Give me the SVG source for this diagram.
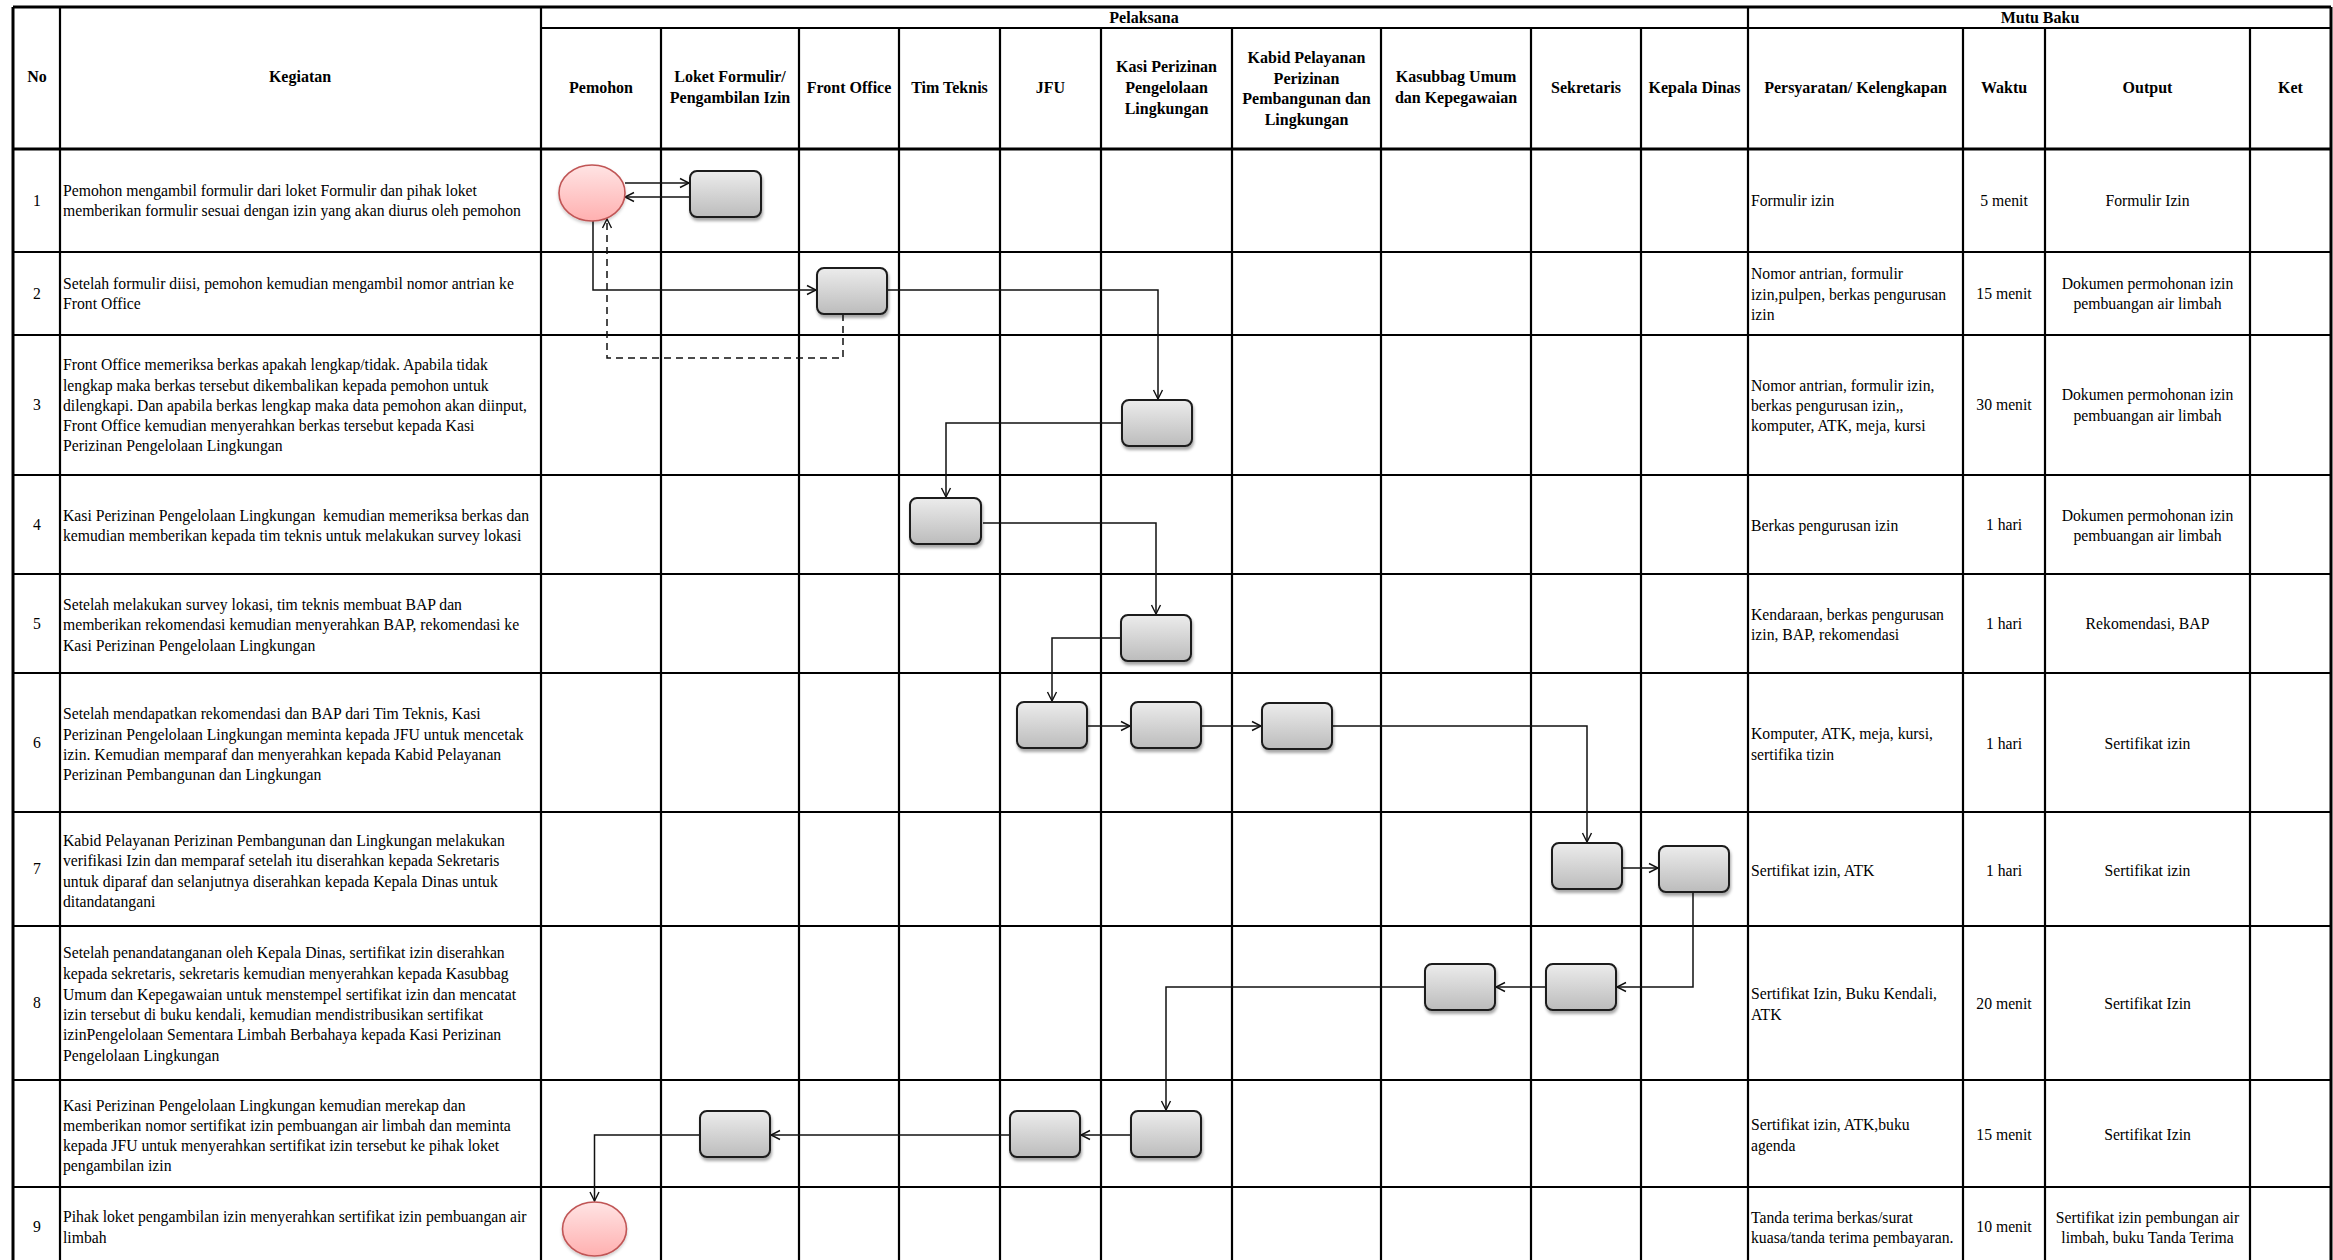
<svg xmlns="http://www.w3.org/2000/svg" width="2333" height="1260" viewBox="0 0 2333 1260">
<style>
.g{stroke:#000;stroke-width:2.2;fill:none}
.gt{stroke:#000;stroke-width:3;fill:none}
.h{font-family:"Liberation Serif","Times New Roman",serif;font-size:16px;font-weight:bold;fill:#000;text-anchor:middle}
.t{font-family:"Liberation Serif","Times New Roman",serif;font-size:15.7px;fill:#000}
.c{text-anchor:middle}
.box{fill:url(#bg);stroke:#1a1a1a;stroke-width:2;filter:url(#sh)}
.circ{fill:url(#cg);stroke:#c05555;stroke-width:1.6;filter:url(#sh2)}
.cn{fill:none;stroke:#111;stroke-width:1.5}
.dash{stroke-dasharray:7,5}
.ar{marker-end:url(#arr)}
</style>
<defs>
<linearGradient id="bg" x1="0" y1="0" x2="0" y2="1">
<stop offset="0" stop-color="#ececec"/>
<stop offset="1" stop-color="#bcbcbc"/>
</linearGradient>
<linearGradient id="cg" x1="0" y1="0" x2="0" y2="1">
<stop offset="0" stop-color="#ffe4e4"/>
<stop offset="1" stop-color="#ffb0b0"/>
</linearGradient>
<filter id="sh" x="-20%" y="-20%" width="140%" height="160%">
<feDropShadow dx="1" dy="3" stdDeviation="1.6" flood-color="#000" flood-opacity="0.35"/>
</filter>
<filter id="sh2" x="-20%" y="-20%" width="140%" height="160%">
<feDropShadow dx="0" dy="2" stdDeviation="1.5" flood-color="#000" flood-opacity="0.2"/>
</filter>
<marker id="arr" markerUnits="userSpaceOnUse" markerWidth="12" markerHeight="12" refX="10" refY="6" orient="auto">
<path d="M1,1.5 L10,6 L1,10.5" fill="none" stroke="#111" stroke-width="1.4"/>
</marker>
</defs>
<rect x="0" y="0" width="2333" height="1260" fill="#fff"/>

<g id="grid">
<line class="gt" x1="13" y1="7" x2="2331" y2="7"/>
<line class="g" x1="541" y1="28" x2="2331" y2="28"/>
<line class="gt" x1="13" y1="149" x2="2331" y2="149"/>
<line class="g" x1="13" y1="252" x2="2331" y2="252"/>
<line class="g" x1="13" y1="335" x2="2331" y2="335"/>
<line class="g" x1="13" y1="475" x2="2331" y2="475"/>
<line class="g" x1="13" y1="574" x2="2331" y2="574"/>
<line class="g" x1="13" y1="673" x2="2331" y2="673"/>
<line class="g" x1="13" y1="812" x2="2331" y2="812"/>
<line class="g" x1="13" y1="926" x2="2331" y2="926"/>
<line class="g" x1="13" y1="1080" x2="2331" y2="1080"/>
<line class="g" x1="13" y1="1187" x2="2331" y2="1187"/>
<line class="gt" x1="13" y1="7" x2="13" y2="1260"/>
<line class="g" x1="60" y1="7" x2="60" y2="1260"/>
<line class="g" x1="541" y1="7" x2="541" y2="1260"/>
<line class="g" x1="661" y1="28" x2="661" y2="1260"/>
<line class="g" x1="799" y1="28" x2="799" y2="1260"/>
<line class="g" x1="899" y1="28" x2="899" y2="1260"/>
<line class="g" x1="1000" y1="28" x2="1000" y2="1260"/>
<line class="g" x1="1101" y1="28" x2="1101" y2="1260"/>
<line class="g" x1="1232" y1="28" x2="1232" y2="1260"/>
<line class="g" x1="1381" y1="28" x2="1381" y2="1260"/>
<line class="g" x1="1531" y1="28" x2="1531" y2="1260"/>
<line class="g" x1="1641" y1="28" x2="1641" y2="1260"/>
<line class="g" x1="1748" y1="7" x2="1748" y2="1260"/>
<line class="g" x1="1963" y1="28" x2="1963" y2="1260"/>
<line class="g" x1="2045" y1="28" x2="2045" y2="1260"/>
<line class="g" x1="2250" y1="28" x2="2250" y2="1260"/>
<line class="gt" x1="2331" y1="7" x2="2331" y2="1260"/>
</g>

<g id="header">
<text class="h" x="37" y="82">No</text>
<text class="h" x="300" y="82">Kegiatan</text>
<text class="h" x="1144" y="23">Pelaksana</text>
<text class="h" x="2040" y="23">Mutu Baku</text>
<text class="h" x="601" y="93">Pemohon</text>
<text class="h"><tspan x="730" y="82">Loket Formulir/</tspan><tspan x="730" y="103">Pengambilan Izin</tspan></text>
<text class="h" x="849" y="93">Front Office</text>
<text class="h" x="949.5" y="93">Tim Teknis</text>
<text class="h" x="1050.5" y="93">JFU</text>
<text class="h"><tspan x="1166.5" y="72">Kasi Perizinan</tspan><tspan x="1166.5" y="93">Pengelolaan</tspan><tspan x="1166.5" y="114">Lingkungan</tspan></text>
<text class="h"><tspan x="1306.5" y="63">Kabid Pelayanan</tspan><tspan x="1306.5" y="83.5">Perizinan</tspan><tspan x="1306.5" y="104">Pembangunan dan</tspan><tspan x="1306.5" y="124.5">Lingkungan</tspan></text>
<text class="h"><tspan x="1456" y="82">Kasubbag Umum</tspan><tspan x="1456" y="103">dan Kepegawaian</tspan></text>
<text class="h" x="1586" y="93">Sekretaris</text>
<text class="h" x="1694.5" y="93">Kepala Dinas</text>
<text class="h" x="1855.5" y="93">Persyaratan/ Kelengkapan</text>
<text class="h" x="2004" y="93">Waktu</text>
<text class="h" x="2147.5" y="93">Output</text>
<text class="h" x="2290.5" y="93">Ket</text>
</g>

<g id="numbers">
<text class="t c" x="37" y="205.5">1</text>
<text class="t c" x="37" y="298.5">2</text>
<text class="t c" x="37" y="410">3</text>
<text class="t c" x="37" y="529.5">4</text>
<text class="t c" x="37" y="628.5">5</text>
<text class="t c" x="37" y="747.5">6</text>
<text class="t c" x="37" y="874">7</text>
<text class="t c" x="37" y="1008">8</text>
<text class="t c" x="37" y="1232">9</text>
</g>

<g id="kegiatan">
<text class="t"><tspan x="63" y="196">Pemohon mengambil formulir dari loket Formulir dan pihak loket</tspan><tspan x="63" y="216">memberikan formulir sesuai dengan izin yang akan diurus oleh pemohon</tspan></text>
<text class="t"><tspan x="63" y="289">Setelah formulir diisi, pemohon kemudian mengambil nomor antrian ke</tspan><tspan x="63" y="309">Front Office</tspan></text>
<text class="t"><tspan x="63" y="370">Front Office memeriksa berkas apakah lengkap/tidak. Apabila tidak</tspan><tspan x="63" y="390.5">lengkap maka berkas tersebut dikembalikan kepada pemohon untuk</tspan><tspan x="63" y="411">dilengkapi. Dan apabila berkas lengkap maka data pemohon akan diinput,</tspan><tspan x="63" y="431">Front Office kemudian menyerahkan berkas tersebut kepada Kasi</tspan><tspan x="63" y="451">Perizinan Pengelolaan Lingkungan</tspan></text>
<text class="t" xml:space="preserve"><tspan x="63" y="521">Kasi Perizinan Pengelolaan Lingkungan  kemudian memeriksa berkas dan</tspan><tspan x="63" y="541">kemudian memberikan kepada tim teknis untuk melakukan survey lokasi</tspan></text>
<text class="t"><tspan x="63" y="610">Setelah melakukan survey lokasi, tim teknis membuat BAP dan</tspan><tspan x="63" y="630">memberikan rekomendasi kemudian menyerahkan BAP, rekomendasi ke</tspan><tspan x="63" y="650.5">Kasi Perizinan Pengelolaan Lingkungan</tspan></text>
<text class="t"><tspan x="63" y="719">Setelah mendapatkan rekomendasi dan BAP dari Tim Teknis, Kasi</tspan><tspan x="63" y="739.5">Perizinan Pengelolaan Lingkungan meminta kepada JFU untuk mencetak</tspan><tspan x="63" y="760">izin. Kemudian memparaf dan menyerahkan kepada Kabid Pelayanan</tspan><tspan x="63" y="780">Perizinan Pembangunan dan Lingkungan</tspan></text>
<text class="t"><tspan x="63" y="845.5">Kabid Pelayanan Perizinan Pembangunan dan Lingkungan melakukan</tspan><tspan x="63" y="866">verifikasi Izin dan memparaf setelah itu diserahkan kepada Sekretaris</tspan><tspan x="63" y="886.5">untuk diparaf dan selanjutnya diserahkan kepada Kepala Dinas untuk</tspan><tspan x="63" y="906.5">ditandatangani</tspan></text>
<text class="t"><tspan x="63" y="958">Setelah penandatanganan oleh Kepala Dinas, sertifikat izin diserahkan</tspan><tspan x="63" y="979">kepada sekretaris, sekretaris kemudian menyerahkan kepada Kasubbag</tspan><tspan x="63" y="999.5">Umum dan Kepegawaian untuk menstempel sertifikat izin dan mencatat</tspan><tspan x="63" y="1019.5">izin tersebut di buku kendali, kemudian mendistribusikan sertifikat</tspan><tspan x="63" y="1040">izinPengelolaan Sementara Limbah Berbahaya kepada Kasi Perizinan</tspan><tspan x="63" y="1061">Pengelolaan Lingkungan</tspan></text>
<text class="t"><tspan x="63" y="1110.5">Kasi Perizinan Pengelolaan Lingkungan kemudian merekap dan</tspan><tspan x="63" y="1130.5">memberikan nomor sertifikat izin pembuangan air limbah dan meminta</tspan><tspan x="63" y="1151">kepada JFU untuk menyerahkan sertifikat izin tersebut ke pihak loket</tspan><tspan x="63" y="1171">pengambilan izin</tspan></text>
<text class="t"><tspan x="63" y="1222">Pihak loket pengambilan izin menyerahkan sertifikat izin pembuangan air</tspan><tspan x="63" y="1242.5">limbah</tspan></text>
</g>

<g id="persyaratan">
<text class="t" x="1751" y="206">Formulir izin</text>
<text class="t"><tspan x="1751" y="279">Nomor antrian, formulir</tspan><tspan x="1751" y="299.5">izin,pulpen, berkas pengurusan</tspan><tspan x="1751" y="320">izin</tspan></text>
<text class="t"><tspan x="1751" y="390.5">Nomor antrian, formulir izin,</tspan><tspan x="1751" y="411">berkas pengurusan izin,,</tspan><tspan x="1751" y="431">komputer, ATK, meja, kursi</tspan></text>
<text class="t" x="1751" y="531">Berkas pengurusan izin</text>
<text class="t"><tspan x="1751" y="619.5">Kendaraan, berkas pengurusan</tspan><tspan x="1751" y="640">izin, BAP, rekomendasi</tspan></text>
<text class="t"><tspan x="1751" y="739">Komputer, ATK, meja, kursi,</tspan><tspan x="1751" y="759.5">sertifika tizin</tspan></text>
<text class="t" x="1751" y="876">Sertifikat izin, ATK</text>
<text class="t"><tspan x="1751" y="999">Sertifikat Izin, Buku Kendali,</tspan><tspan x="1751" y="1020">ATK</tspan></text>
<text class="t"><tspan x="1751" y="1130">Sertifikat izin, ATK,buku</tspan><tspan x="1751" y="1151">agenda</tspan></text>
<text class="t"><tspan x="1751" y="1222.5">Tanda terima berkas/surat</tspan><tspan x="1751" y="1243">kuasa/tanda terima pembayaran.</tspan></text>
</g>

<g id="waktu">
<text class="t c" x="2004" y="206">5 menit</text>
<text class="t c" x="2004" y="299">15 menit</text>
<text class="t c" x="2004" y="410">30 menit</text>
<text class="t c" x="2004" y="530">1 hari</text>
<text class="t c" x="2004" y="629">1 hari</text>
<text class="t c" x="2004" y="749">1 hari</text>
<text class="t c" x="2004" y="876">1 hari</text>
<text class="t c" x="2004" y="1009">20 menit</text>
<text class="t c" x="2004" y="1140">15 menit</text>
<text class="t c" x="2004" y="1232">10 menit</text>
</g>

<g id="output">
<text class="t c" x="2147.5" y="206">Formulir Izin</text>
<text class="t c"><tspan x="2147.5" y="289">Dokumen permohonan izin</tspan><tspan x="2147.5" y="309">pembuangan air limbah</tspan></text>
<text class="t c"><tspan x="2147.5" y="400">Dokumen permohonan izin</tspan><tspan x="2147.5" y="421">pembuangan air limbah</tspan></text>
<text class="t c"><tspan x="2147.5" y="521">Dokumen permohonan izin</tspan><tspan x="2147.5" y="541">pembuangan air limbah</tspan></text>
<text class="t c" x="2147.5" y="629">Rekomendasi, BAP</text>
<text class="t c" x="2147.5" y="749">Sertifikat izin</text>
<text class="t c" x="2147.5" y="876">Sertifikat izin</text>
<text class="t c" x="2147.5" y="1009">Sertifikat Izin</text>
<text class="t c" x="2147.5" y="1140">Sertifikat Izin</text>
<text class="t c"><tspan x="2147.5" y="1222.5">Sertifikat izin pembungan air</tspan><tspan x="2147.5" y="1243">limbah, buku Tanda Terima</tspan></text>
</g>

<g id="connectors">
<path class="cn ar" d="M625,183 L689,183"/>
<path class="cn ar" d="M690,197 L625,197"/>
<path class="cn ar" d="M593,221 L593,290 L816,290"/>
<path class="cn dash ar" d="M843,314 L843,358 L607,358 L607,219"/>
<path class="cn ar" d="M887,290 L1158,290 L1158,399"/>
<path class="cn ar" d="M1122,423 L946,423 L946,497"/>
<path class="cn ar" d="M983,523 L1156,523 L1156,614"/>
<path class="cn ar" d="M1121,638 L1052,638 L1052,701"/>
<path class="cn ar" d="M1087,726 L1130,726"/>
<path class="cn ar" d="M1201,726 L1261,726"/>
<path class="cn ar" d="M1332,726 L1587,726 L1587,842"/>
<path class="cn ar" d="M1622,868 L1658,868"/>
<path class="cn ar" d="M1693,892 L1693,987 L1617,987"/>
<path class="cn ar" d="M1546,987 L1496,987"/>
<path class="cn ar" d="M1425,987 L1166,987 L1166,1110"/>
<path class="cn ar" d="M1131,1135 L1081,1135"/>
<path class="cn ar" d="M1010,1135 L771,1135"/>
<path class="cn ar" d="M700,1135 L594.5,1135 L594.5,1201"/>
</g>

<g id="n-start"><ellipse class="circ" cx="592" cy="193" rx="33" ry="28"/></g>
<g id="n-loket1"><rect class="box" x="690" y="171" width="71" height="46" rx="7"/></g>
<g id="n-fo"><rect class="box" x="817" y="268" width="70" height="46" rx="7"/></g>
<g id="n-kasi3"><rect class="box" x="1122" y="400" width="70" height="46" rx="7"/></g>
<g id="n-timteknis"><rect class="box" x="910" y="498" width="71" height="46" rx="7"/></g>
<g id="n-kasi5"><rect class="box" x="1121" y="615" width="70" height="46" rx="7"/></g>
<g id="n-jfu6"><rect class="box" x="1017" y="702" width="70" height="46" rx="7"/></g>
<g id="n-kasi6"><rect class="box" x="1131" y="702" width="70" height="46" rx="7"/></g>
<g id="n-kabid"><rect class="box" x="1262" y="703" width="70" height="46" rx="7"/></g>
<g id="n-sekretaris7"><rect class="box" x="1552" y="843" width="70" height="46" rx="7"/></g>
<g id="n-kadis"><rect class="box" x="1659" y="846" width="70" height="46" rx="7"/></g>
<g id="n-sekretaris8"><rect class="box" x="1546" y="964" width="70" height="46" rx="7"/></g>
<g id="n-kasubbag"><rect class="box" x="1425" y="964" width="70" height="46" rx="7"/></g>
<g id="n-kasi9"><rect class="box" x="1131" y="1111" width="70" height="46" rx="7"/></g>
<g id="n-jfu9"><rect class="box" x="1010" y="1111" width="70" height="46" rx="7"/></g>
<g id="n-loket9"><rect class="box" x="700" y="1111" width="70" height="46" rx="7"/></g>
<g id="n-end"><ellipse class="circ" cx="594.5" cy="1229" rx="32" ry="27"/></g>
</svg>
